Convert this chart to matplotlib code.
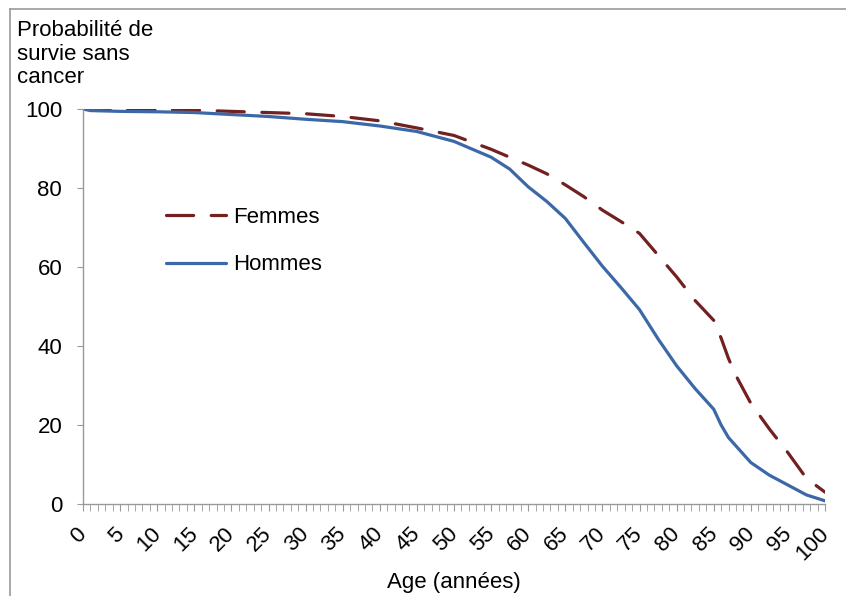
import numpy as np
import matplotlib
matplotlib.use("Agg")
import matplotlib.pyplot as plt
import matplotlib.transforms as mtransforms
from matplotlib.lines import Line2D

plt.rcParams['font.family'] = ['Liberation Sans', 'DejaVu Sans']

# values
ages_h = [0, 1, 5, 10, 15, 20, 25, 30, 35, 40, 45, 50, 55, 57.5, 60, 62.5, 65,
          67.5, 70, 72.5, 75, 77.5, 80, 82.5, 85, 86, 87, 90, 92.5, 95, 97.5, 100]
hommes = [100, 99.6, 99.4, 99.3, 99.1, 98.6, 98.1, 97.4, 96.8, 95.7, 94.3, 91.8,
          87.8, 84.8, 80.3, 76.6, 72.3, 66.2, 60.2, 54.8, 49.2, 41.8, 35.0, 29.2,
          24.0, 20.0, 16.8, 10.5, 7.3, 4.8, 2.3, 0.8]

ages_f = [0, 5, 10, 15, 20, 25, 30, 35, 40, 45, 50, 55, 60, 62.5, 65, 67.5, 70,
          72.5, 75, 77.5, 80, 82.5, 85, 86, 87, 88, 90, 92.5, 95, 97.5, 100]
femmes = [100, 99.8, 99.8, 99.7, 99.4, 99.1, 98.8, 98.1, 97.0, 95.2, 93.3, 89.8,
          85.8, 83.6, 80.8, 77.8, 74.4, 71.5, 68.5, 63.0, 57.5, 51.5, 46.5, 42.0,
          36.8, 32.5, 25.5, 19.0, 13.0, 6.5, 3.0]

x_labels = list(range(0, 101, 5))
y_ticks = [0, 20, 40, 60, 80, 100]

fig = plt.figure(figsize=(8.46, 5.96), dpi=100)
ax = fig.add_axes([83 / 846, 1 - 504 / 596, (825 - 83) / 846, (504 - 109) / 596])

red = '#722020'
blue = '#3C68A8'
ax.plot(ages_f, femmes, color=red, lw=2.3, dashes=(8.5, 5.5),
        dash_capstyle='round', label='Femmes')
ax.plot(ages_h, hommes, color=blue, lw=2.3, solid_capstyle='round',
        label='Hommes')

ax.set_xlim(0, 100)
ax.set_ylim(0, 100)
for s in ['top', 'right']:
    ax.spines[s].set_visible(False)
for s in ['left', 'bottom']:
    ax.spines[s].set_color('#999999')
    ax.spines[s].set_linewidth(1)

ax.set_yticks(y_ticks)
ax.set_xticks(x_labels)
ax.set_xticks(range(0, 101), minor=True)
ax.set_xticklabels([str(v) for v in x_labels], rotation=45, ha='right',
                   rotation_mode='anchor')
ax.tick_params(axis='y', length=4, color='#999999', labelsize=16, pad=11)
ax.tick_params(axis='x', which='both', length=5, color='#999999',
               labelsize=16, pad=9)

# nudge rotated labels a bit left, like the original
shift = mtransforms.ScaledTranslation(-5 / 72, 0, fig.dpi_scale_trans)
for lab in ax.get_xticklabels():
    lab.set_transform(lab.get_transform() + shift)

ax.set_xlabel('Age (années)', fontsize=16, labelpad=5)

fig.text(17 / 846, 1 - 20 / 596, 'Probabilité de\nsurvie sans\ncancer',
         fontsize=16, ha='left', va='top', linespacing=1.17)

ax.legend(loc='upper left', bbox_to_anchor=(0.1, 0.775), frameon=False,
          fontsize=16, handlelength=2.7, handletextpad=0.3, labelspacing=1.2,
          borderaxespad=0)

# outer chart border (only top and left visible)
fig.add_artist(Line2D([10 / 846, 1], [1 - 9 / 596, 1 - 9 / 596],
                      transform=fig.transFigure, color='#999999', lw=1.2))
fig.add_artist(Line2D([10 / 846, 10 / 846], [0, 1 - 9 / 596],
                      transform=fig.transFigure, color='#999999', lw=1.2))

fig.savefig('out.png', dpi=100)
